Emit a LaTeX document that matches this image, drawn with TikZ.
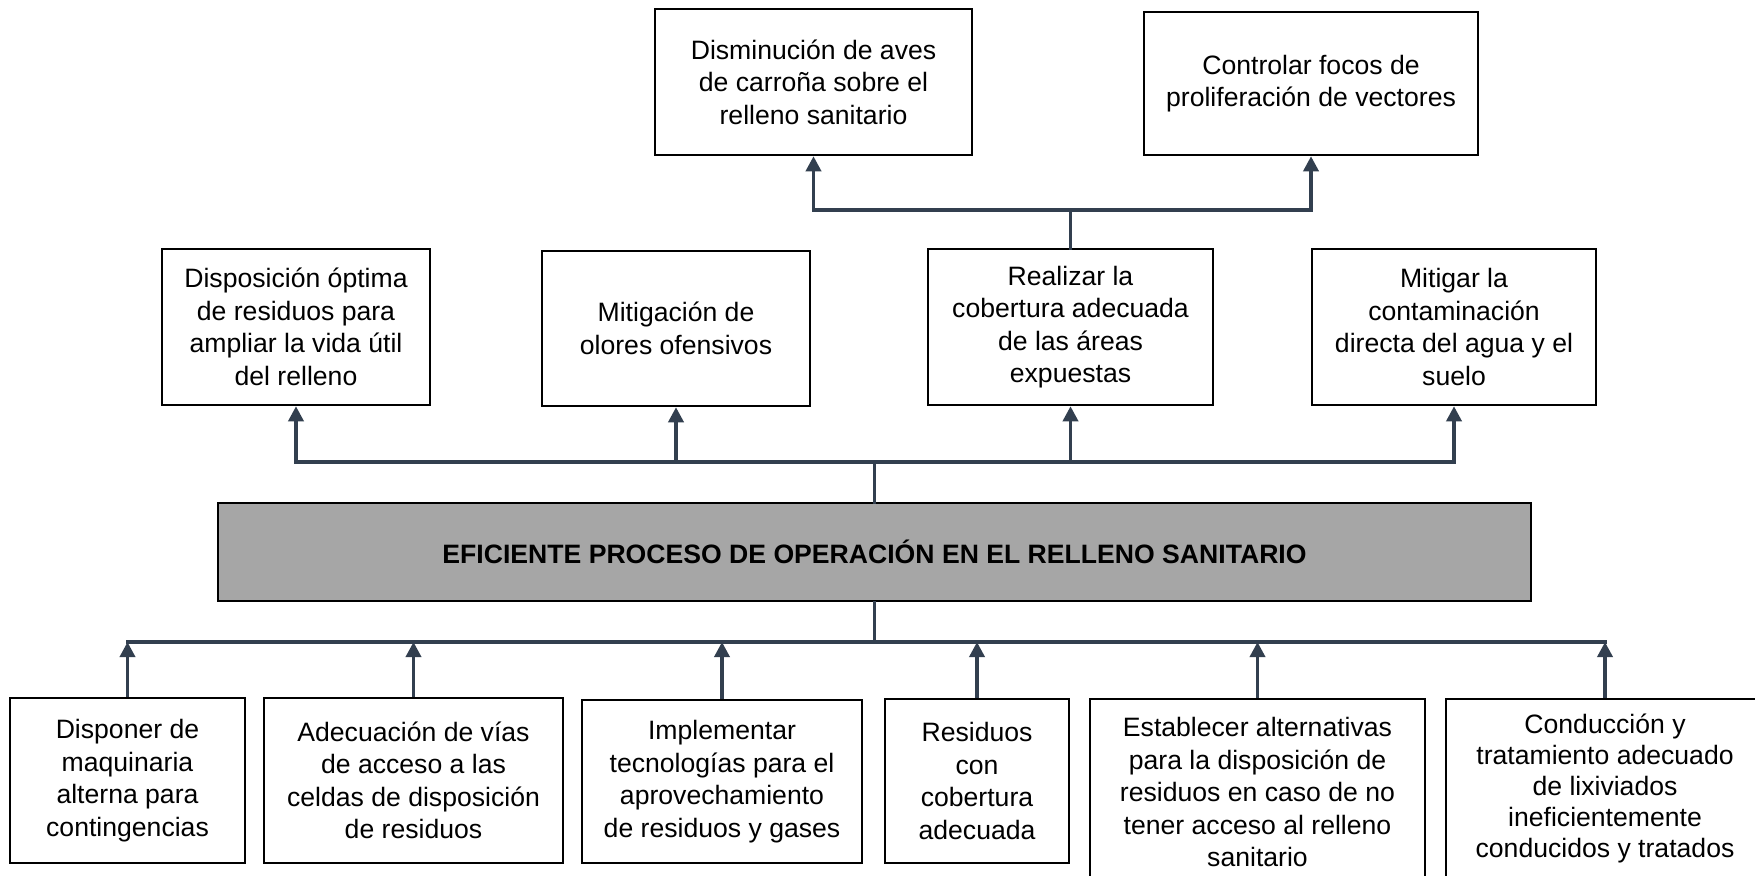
\documentclass[tikz,border=0pt]{standalone}
\usepackage{fontspec}
\setmainfont{Liberation Sans}
\usetikzlibrary{arrows.meta}
\definecolor{conncol}{RGB}{50,63,79}
\definecolor{maingray}{RGB}{166,166,166}
\begin{document}
\begin{tikzpicture}[x=1pt,y=-1pt,
  box/.style={draw=black, line width=2.5pt, align=center, inner sep=0pt, fill=white,
    font=\fontsize{26.6}{32.5}\selectfont},
  conn/.style={draw=conncol, line width=3.5pt, line cap=rect},
  arr/.style={draw=conncol, line width=3.5pt, -{Triangle[width=15pt,length=15pt]}},
]
\path[use as bounding box] (0,0) rectangle (1755,875);
\clip (0,0) rectangle (1755,875);
\fill[white] (0,0) rectangle (1755,875);

% top row
\node[box, minimum width=317pt, minimum height=146pt] (t1) at (813.5,82)
  {Disminución de aves\\de carroña sobre el\\relleno sanitario};
\node[box, minimum width=334pt, minimum height=143pt] (t2) at (1311,83.5)
  {Controlar focos de\\proliferación de vectores};

% middle row
\node[box, minimum width=268pt, minimum height=156pt] (m1) at (296,327)
  {Disposición óptima\\de residuos para\\ampliar la vida útil\\del relleno};
\node[box, minimum width=268pt, minimum height=155pt] (m2) at (676,328.5)
  {Mitigación de\\olores ofensivos};
\node[box, minimum width=285pt, minimum height=156pt] (m3) at (1070.5,327)
  {Realizar la\\cobertura adecuada\\de las áreas\\expuestas};
\node[box, minimum width=284pt, minimum height=156pt] (m4) at (1454,327)
  {Mitigar la\\contaminación\\directa del agua y el\\suelo};

% main
\node[box, fill=maingray, minimum width=1313pt, minimum height=98pt] (main) at (874.5,552)
  {\bfseries EFICIENTE PROCESO DE OPERACIÓN EN EL RELLENO SANITARIO};

% bottom row
\node[box, minimum width=235pt, minimum height=165pt] (b1) at (127.5,780.5)
  {Disponer de\\maquinaria\\alterna para\\contingencias};
\node[box, minimum width=299pt, minimum height=165pt] (b2) at (413.5,780.5)
  {Adecuación de vías\\de acceso a las\\celdas de disposición\\de residuos};
\node[box, minimum width=280pt, minimum height=163pt] (b3) at (722,781.5)
  {Implementar\\tecnologías para el\\aprovechamiento\\de residuos y gases};
\node[box, minimum width=184pt, minimum height=164pt] (b4) at (977,781)
  {Residuos\\con\\cobertura\\adecuada};
\node[box, minimum width=335pt, minimum height=186pt] (b5) at (1257.5,792)
  {Establecer alternativas\\para la disposición de\\residuos en caso de no\\tener acceso al relleno\\sanitario};
\node[box, minimum width=318pt, minimum height=179pt, font=\fontsize{26.6}{31}\selectfont] (b6) at (1605,788.5)
  {Conducción y\\tratamiento adecuado\\de lixiviados\\ineficientemente\\conducidos y tratados};

% junctions
\coordinate (tj) at (874.5,462);
\coordinate (uj) at (1070.5,210);
\coordinate (bj) at (874.5,642);

% upper connectors
\draw[conn] (main.north) -- (tj);
\draw[conn] (tj -| m1.south) -- (tj -| m4.south);
\foreach \m in {m1,m2,m3,m4}{
  \draw[arr] (tj -| \m.south) -- (\m.south);
}
\draw[conn] (m3.north) -- (uj);
\draw[conn] (uj -| t1.south) -- (uj -| t2.south);
\foreach \t in {t1,t2}{
  \draw[arr] (uj -| \t.south) -- (\t.south);
}

% lower connectors
\draw[conn] (main.south) -- (bj);
\draw[conn] (bj -| b1.north) -- (bj -| b6.north);
\foreach \b in {b1,b2,b3,b4,b5,b6}{
  \draw[arr] (\b.north) -- (\b.north |- bj);
}
\end{tikzpicture}
\end{document}
